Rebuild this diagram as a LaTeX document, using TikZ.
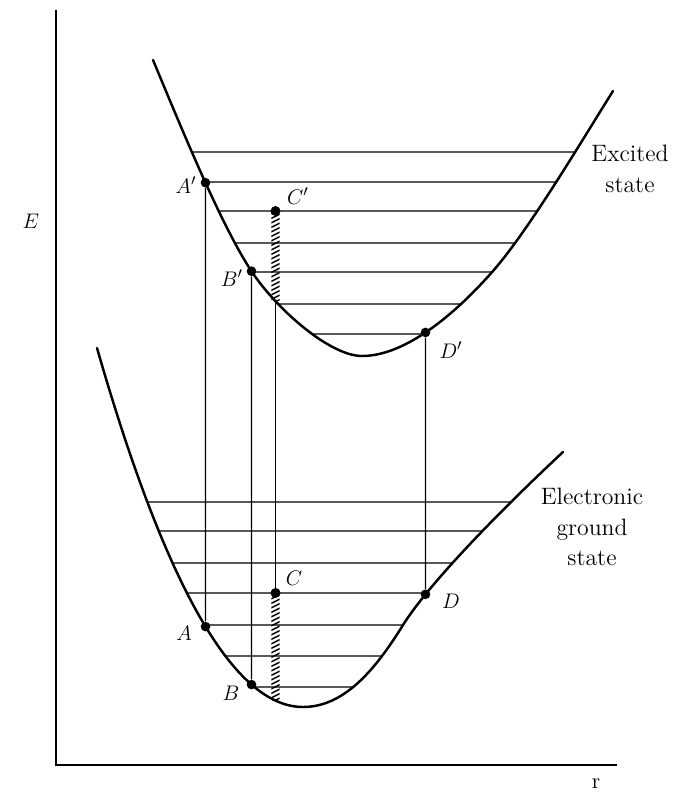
\documentclass[tikz,border=0pt]{standalone}
\usepackage{tikz}
\usetikzlibrary{positioning, intersections}

\begin{document}
\begin{tikzpicture}[
    x=0.02cm, y=-0.02cm,
    every node/.style={font=\fontsize{12.5}{17}\selectfont, align=center},
    curve/.style={line width=1.4pt, line cap=round},
    level/.style={line width=0.75pt},
    drop/.style={line width=0.6pt},
    hatchline/.style={line width=0.8pt},
    dot/.style={circle, fill=black, inner sep=0pt, minimum size=5.5pt},
    statelabel/.style={font=\fontsize{13.5}{17.5}\selectfont}
]
\useasboundingbox (0,0) rectangle (682,794);

% axes
\coordinate (top)    at (56,10);
\coordinate (origin) at (56,765);
\coordinate (right)  at (617,765);
\draw[line width=0.9pt] (top) -- (origin) -- (right);
\node (Elab) at (31,221) {$E$};
\node (rlab) at (596,784) {r};

% excited state
\draw[curve, name path=excited] (153,60)
    .. controls (183,132) and (222,227) .. (252,272)
    .. controls (277,309.5) and (330,356) .. (362,356)
    .. controls (407,356) and (458,311) .. (493,271)
    .. controls (528,231) and (578,147) .. (613,91);
\foreach \y [count=\i] in {152,182,211,243,272,304,334} {
    \path[name path=cut] (60,\y) -- (680,\y);
    \path[name intersections={of=excited and cut, name=I, sort by=cut}];
    \coordinate (uL\i) at (I-1);
    \coordinate (uR\i) at (I-2);
    \draw[level] (uL\i) -- (uR\i);
}

% ground state
\draw[curve, name path=ground] (97,348)
    .. controls (165.7,587.3) and (234.3,707) .. (303,707)
    .. controls (343,707) and (374,672) .. (403,625)
    .. controls (430,582) and (503,508) .. (563,452);
\foreach \y [count=\i] in {502,531,563,593,625,656,687} {
    \path[name path=cut] (60,\y) -- (680,\y);
    \path[name intersections={of=ground and cut, name=I, sort by=cut}];
    \coordinate (gL\i) at (I-1);
    \coordinate (gR\i) at (I-2);
    \draw[level] (gL\i) -- (gR\i);
}

\node[statelabel] (excitedlab) at (630,169) {Excited\\state};
\node[statelabel] (groundlab)  at (592,527) {Electronic\\ground\\state};

% vertical cuts through both curves
\foreach \name/\x in {A/205.5, B/251.5, C/275.5, D/425.5} {
    \path[name path=vcut] (\x,40) -- (\x,760);
    \path[name intersections={of=excited and vcut, name=U}];
    \path[name intersections={of=ground and vcut, name=G}];
    \coordinate (up\name) at (U-1);
    \coordinate (lo\name) at (G-1);
}

% points
\node[dot] (Ap) at (upA) {};
\node[dot] (Bp) at (upB) {};
\node[dot] (Cp) at (upC |- uL3) {};
\node[dot] (Dp) at (upD) {};
\node[dot] (A)  at (loA) {};
\node[dot] (B)  at (loB) {};
\node[dot] (C)  at (upC |- gL4) {};
\node[dot] (D)  at (loD) {};

\node (Aplab) at (186,185) {$A'$};
\node (Bplab) at (232,278) {$B'$};
\node (Cplab) at (298,196) {$C'$};
\node (Dplab) at (451,350) {$D'$};
\node (Alab)  at (184,633) {$A$};
\node (Blab)  at (231,693) {$B$};
\node (Clab)  at (294,578) {$C$};
\node (Dlab)  at (451,601) {$D$};

% vertical transitions
\draw[drop] (Ap) -- (A);
\draw[drop] (Bp) -- (B);
\draw[drop] (Dp) -- (D);
\draw[drop] (upC) -- (C);

% hatched bars
\begin{scope}
    \clip ([xshift=-2.3pt]Cp.center) rectangle ([xshift=2.3pt]upC);
    \foreach \y in {200,204.5,...,320}
        \draw[hatchline] (271,\y+5) -- (281,\y);
\end{scope}
\begin{scope}
    \clip ([xshift=-2.3pt]C.center) rectangle ([xshift=2.3pt]loC);
    \foreach \y in {585,589.5,...,710}
        \draw[hatchline] (271,\y+5) -- (281,\y);
\end{scope}
\node[dot] at (Cp) {};
\node[dot] at (C) {};
\end{tikzpicture}
\end{document}
